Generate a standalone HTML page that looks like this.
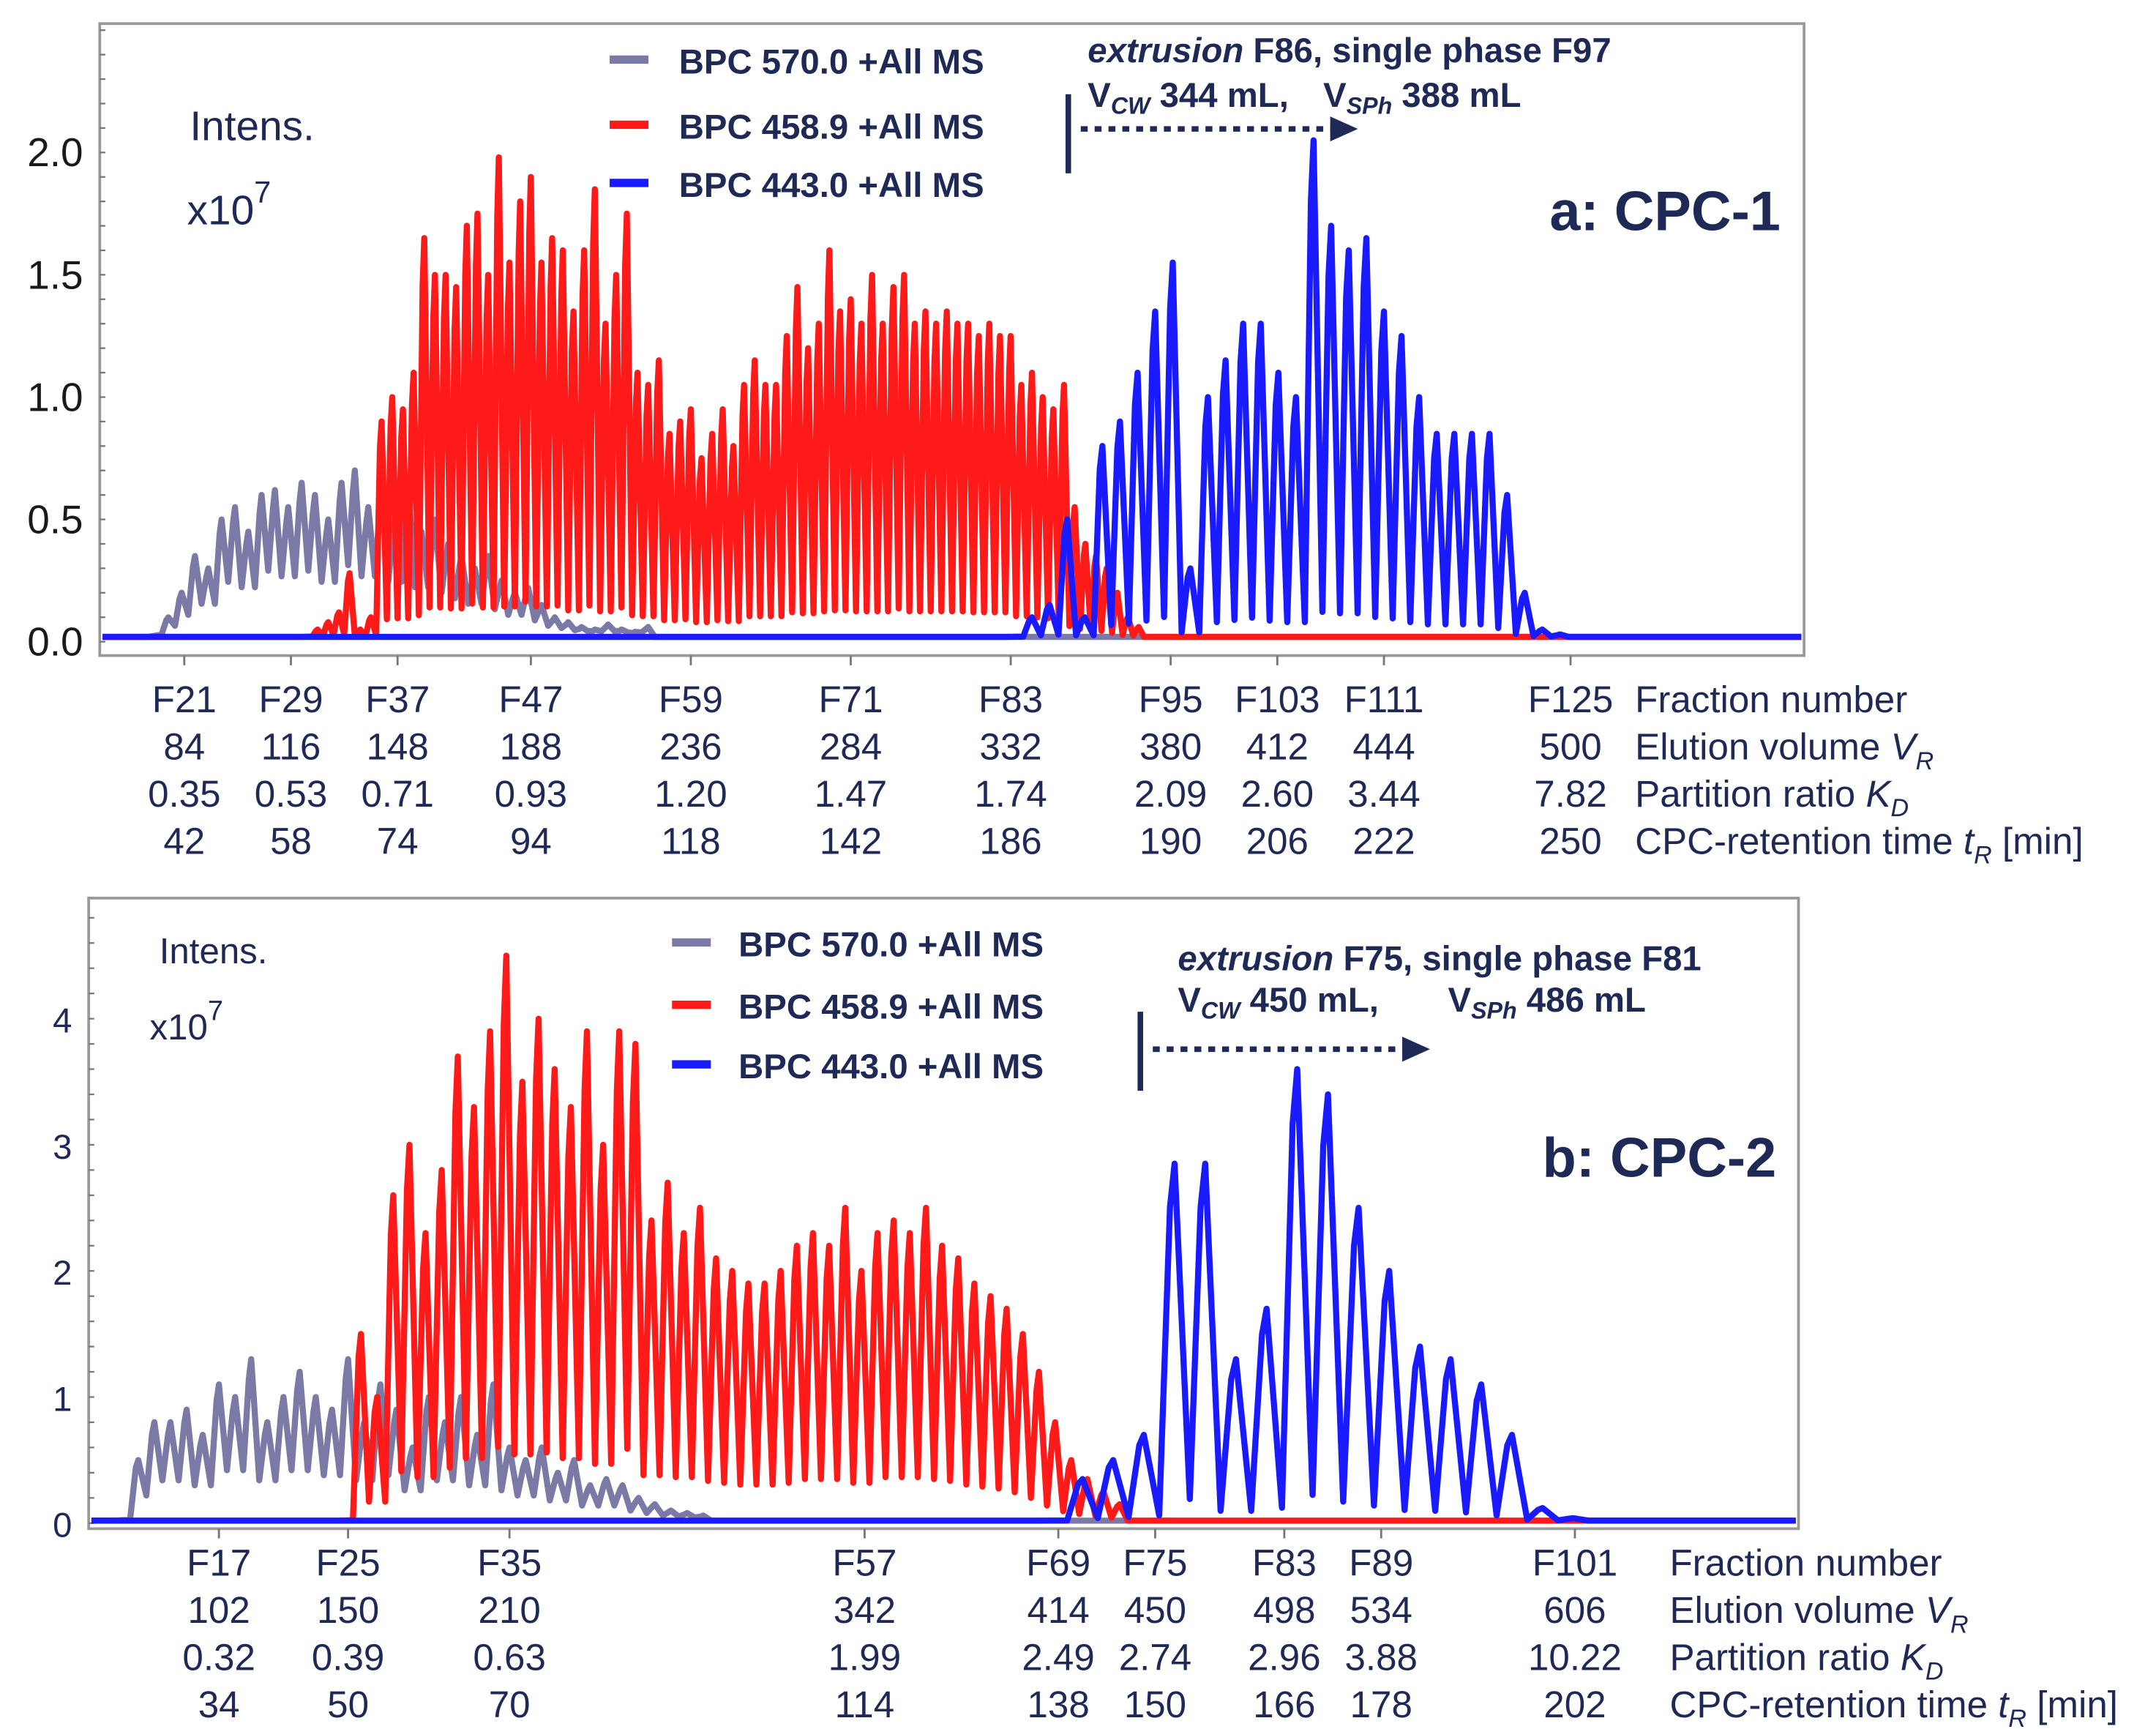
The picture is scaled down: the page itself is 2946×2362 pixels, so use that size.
<!DOCTYPE html>
<html><head><meta charset="utf-8"><style>
html,body{margin:0;padding:0;background:#fff;}
svg{display:block;}
text{font-family:"Liberation Sans",Arial,sans-serif;}
.tk{font-size:29px;fill:#1a1a1a;}
.tkb{font-size:25px;fill:#1e2a55;}
.tb{font-size:27px;fill:#1e2a55;}
.lg{font-size:25px;font-weight:bold;fill:#1e2a55;}
.an{font-size:25px;font-weight:bold;fill:#1e2a55;}
</style></head><body>
<svg id="chart" width="2946" height="2362" viewBox="0 0 1556 1247.5" xmlns="http://www.w3.org/2000/svg">
<rect width="1556" height="1248" fill="#fff"/>
<g id="panelA">
<rect x="72" y="17" width="1230" height="456" fill="none" stroke="#999" stroke-width="2"/>
<g id="ayax"></g>
<g id="aseries"></g>
<g id="atable"></g>
<text x="137" y="101" style="font-size:30px;fill:#1e2a55">Intens.</text>
<text x="135" y="162" style="font-size:30px;fill:#1e2a55">x10<tspan dy="-16" font-size="22">7</tspan></text>
<g>
<line x1="440" y1="43" x2="468" y2="43" stroke="#7b7aa6" stroke-width="6"/><text class="lg" x="490" y="53">BPC 570.0 +All MS</text>
<line x1="440" y1="90" x2="468" y2="90" stroke="#ff1a1a" stroke-width="6"/><text class="lg" x="490" y="100">BPC 458.9 +All MS</text>
<line x1="440" y1="132" x2="468" y2="132" stroke="#1a1aff" stroke-width="6"/><text class="lg" x="490" y="142">BPC 443.0 +All MS</text>
</g>
<g>
<text class="an" x="785" y="45"><tspan font-style="italic">extrusion</tspan> F86, single phase F97</text>
<text class="an" x="785" y="77">V<tspan font-size="17" dy="5" font-style="italic">CW</tspan><tspan dy="-5"> 344 mL,</tspan></text>
<text class="an" x="955" y="77">V<tspan font-size="17" dy="5" font-style="italic">SPh</tspan><tspan dy="-5"> 388 mL</tspan></text>
<line x1="771" y1="68" x2="771" y2="125" stroke="#1e2a55" stroke-width="4"/>
<line x1="780" y1="93" x2="962" y2="93" stroke="#1e2a55" stroke-width="4" stroke-dasharray="5,5"/>
<polygon points="960,84 980,93 960,102" fill="#1e2a55"/>
</g>
<text x="1285" y="166" text-anchor="end" style="font-size:40px;font-weight:bold;fill:#1e2a55">a: CPC-1</text>
</g>
<g id="panelB">
<rect x="64" y="648" width="1234" height="455" fill="none" stroke="#999" stroke-width="2"/>
<g id="byax"></g>
<g id="bseries"></g>
<g id="btable"></g>
<text x="115" y="695" style="font-size:26px;fill:#1e2a55">Intens.</text>
<text x="108" y="750" style="font-size:26px;fill:#1e2a55">x10<tspan dy="-14" font-size="20">7</tspan></text>
<g>
<line x1="485" y1="680" x2="513" y2="680" stroke="#7b7aa6" stroke-width="6"/><text class="lg" x="533" y="690">BPC 570.0 +All MS</text>
<line x1="485" y1="725" x2="513" y2="725" stroke="#ff1a1a" stroke-width="6"/><text class="lg" x="533" y="735">BPC 458.9 +All MS</text>
<line x1="485" y1="768" x2="513" y2="768" stroke="#1a1aff" stroke-width="6"/><text class="lg" x="533" y="778">BPC 443.0 +All MS</text>
</g>
<g>
<text class="an" x="850" y="700"><tspan font-style="italic">extrusion</tspan> F75, single phase F81</text>
<text class="an" x="850" y="730">V<tspan font-size="17" dy="5" font-style="italic">CW</tspan><tspan dy="-5"> 450 mL,</tspan></text>
<text class="an" x="1045" y="730">V<tspan font-size="17" dy="5" font-style="italic">SPh</tspan><tspan dy="-5"> 486 mL</tspan></text>
<line x1="823" y1="730" x2="823" y2="787" stroke="#1e2a55" stroke-width="4"/>
<line x1="832" y1="757" x2="1015" y2="757" stroke="#1e2a55" stroke-width="4" stroke-dasharray="5,5"/>
<polygon points="1012,748 1032,757 1012,766" fill="#1e2a55"/>
</g>
<text x="1282" y="849" text-anchor="end" style="font-size:40px;font-weight:bold;fill:#1e2a55">b: CPC-2</text>
</g>
</svg>
<script>
// ---- Panel A data ----
const aYTicks=[0,0.5,1.0,1.5,2.0];
const aYTickLabels=["0.0","0.5","1.0","1.5","2.0"];
const grayA_F0=19.8, grayA_step=1;
const grayA=[0.1,0.2,0.35,0.3,0.5,0.55,0.45,0.6,0.62,0.55,0.65,0.6,0.5,0.65,0.7,0.55,0.6,0.5,0.65,0.45,0.5,0.4,0.35,0.3,0.35,0.25,0.2,0.22,0.15,0.1,0.08,0.06,0.05,0.07,0.05,0.04,0.06];
const redA_F0=31, redA_step=0.8;
const redA=[0.05,0.08,0.12,0.28,0.05,0.1,0.9,1.0,0.95,1.1,1.65,1.5,1.5,1.45,1.7,1.75,1.5,1.98,1.55,1.8,1.9,1.55,1.65,1.6,1.35,1.6,1.85,1.3,1.5,1.75,1.1,1.05,1.15,0.85,0.9,0.95,0.75,0.85,0.95,0.8,1.05,1.15,1.05,1.05,1.25,1.45,1.2,1.3,1.6,1.35,1.4,1.3,1.5,1.3,1.45,1.5,1.3,1.35,1.3,1.35,1.3,1.3,1.25,1.3,1.25,1.25,1.05,1.1,1.0,0.95,1.05,0.55,0.4,0.35,0.3,0.2,0.1,0.06];
const blueA_F0=84.6, blueA_step=1.32;
const blueA=[0.1,0.15,0.5,0.1,0.8,0.9,1.1,1.35,1.55,0.3,1.0,1.15,1.3,1.3,1.1,1.0,2.05,1.7,1.6,1.65,1.35,1.25,1.0,0.85,0.85,0.85,0.85,0.6,0.2,0.05,0.03];
const aXTicksF=[21,29,37,47,59,71,83,95,103,111,125];
const aRowVR=["84","116","148","188","236","284","332","380","412","444","500"];
const aRowKD=["0.35","0.53","0.71","0.93","1.20","1.47","1.74","2.09","2.60","3.44","7.82"];
const aRowTR=["42","58","74","94","118","142","186","190","206","222","250"];
const aRowLbl=["Fraction number","Elution volume V|R","Partition ratio K|D","CPC-retention time t|R [min]"];
// ---- Panel B data ----
const bYTicks=[0,1,2,3,4];
const bYTickLabels=["0","1","2","3","4"];
const grayB_F0=12, grayB_step=1;
const grayB=[0.5,0.8,0.8,0.9,0.7,1.1,1.0,1.3,0.8,1.0,1.2,1.0,0.9,1.3,0.8,1.1,0.9,0.6,1.0,0.8,1.0,0.7,1.1,0.6,0.5,0.6,0.4,0.5,0.3,0.35,0.3,0.2,0.15,0.1,0.08,0.06];
const redB_F0=25.8, redB_step=1;
const redB=[1.5,1.0,2.6,3.0,2.3,2.8,3.7,3.3,3.9,4.5,3.5,4.0,3.6,3.3,3.9,3.0,3.9,3.8,2.4,2.7,2.3,2.5,2.1,2.0,1.9,1.9,2.0,2.2,2.3,2.2,2.5,2.0,2.3,2.4,2.3,2.5,2.2,2.1,1.9,1.8,1.7,1.5,1.2,0.8,0.5,0.35,0.25,0.15];
const blueB_F0=70.5, blueB_step=1.9;
const blueB=[0.35,0.5,0.7,2.85,2.85,1.3,1.7,3.6,3.4,2.5,2.0,1.4,1.3,1.1,0.7,0.12,0.04];
const bXTicksF=[17,25,35,57,69,75,83,89,101];
const bRowVR=["102","150","210","342","414","450","498","534","606"];
const bRowKD=["0.32","0.39","0.63","1.99","2.49","2.74","2.96","3.88","10.22"];
const bRowTR=["34","50","70","114","138","150","166","178","202"];

const NS="http://www.w3.org/2000/svg";
function mk(tag,attrs,parent){const e=document.createElementNS(NS,tag);for(const k in attrs)e.setAttribute(k,attrs[k]);parent.appendChild(e);return e;}
const A={x:f=>133+(f-21)*9.62, y:v=>463-v*176.5, x0:74, x1:1300, left:72};
const B={x:f=>158+(f-17)*11.65, y:v=>1099-v*91, x0:66, x1:1296, left:64};

function yAxis(P,g,ticks,labels,minorStep,maxV,cls){
  for(let v=0;v<=maxV+1e-9;v+=minorStep){const l=mk('line',{x1:P.left,x2:P.left+4,y1:P.y(v),y2:P.y(v),stroke:'#777','stroke-width':1.2},g);
    }
  ticks.forEach((v,i)=>{const t=mk('text',{x:P.left-12,y:P.y(v)+10,'text-anchor':'end',class:cls},g);t.textContent=labels[i];
    });
}
function series(P,g,F0,step,H,color,name,vf){
  const pts=[[P.x0,P.y(0.02)]];
  const base=0.02;
  pts.push([P.x(F0-step*1.5),P.y(base)]);
  H.forEach((h,i)=>{const prev=i?H[i-1]:base;const f=F0+i*step;
    const v=Math.min(prev,h)*vf+base;
    pts.push([P.x(f-step/2),P.y(v)]);
    pts.push([P.x(f-step*0.15),P.y(h*0.88)]);
    pts.push([P.x(f),P.y(h)]);});
  const fe=F0+H.length*step;
  pts.push([P.x(fe-step/2),P.y(base)]);
  pts.push([P.x1,P.y(base)]);
  const p=mk('polyline',{points:pts.map(q=>q[0].toFixed(1)+','+q[1].toFixed(1)).join(' '),fill:'none',stroke:color,'stroke-width':4.4,'stroke-linejoin':'round'},g);
  
  
}
function noise(P,g,color,name){
  const l=mk('line',{x1:P.x0,x2:P.x1,y1:P.y(0.02),y2:P.y(0.02),stroke:color,'stroke-width':3.5},g);
  
}
function table(P,g,xf,rows,rowY,lblX,axisY){
  xf.forEach((f,i)=>{const t=mk('line',{x1:P.x(f),x2:P.x(f),y1:axisY,y2:axisY+7,stroke:'#777','stroke-width':1.5},g);
    });
  const r0=xf.map(f=>'F'+f);
  [r0].concat(rows).forEach((row,ri)=>{row.forEach((s,i)=>{const t=mk('text',{x:P.x(xf[i]),y:rowY[ri],'text-anchor':'middle',class:'tb'},g);t.textContent=s;
    });});
  aRowLbl.forEach((s,ri)=>{const t=mk('text',{x:lblX,y:rowY[ri],class:'tb'},g);const parts=s.split('|');
    t.appendChild(document.createTextNode(parts.length>1?parts[0].slice(0,-1):parts[0]));
    if(parts.length>1){const it=mk('tspan',{'font-style':'italic'},t);it.textContent=parts[0].slice(-1);
      const sb=mk('tspan',{'font-style':'italic','font-size':18,dy:7},t);sb.textContent=parts[1].split(' ')[0];
      const rest=parts[1].slice(1);if(rest){const r=mk('tspan',{dy:-7},t);r.textContent=rest;}}
    });
}
const ga=document.getElementById('aseries'), gb=document.getElementById('bseries');
yAxis(A,document.getElementById('ayax'),aYTicks,aYTickLabels,0.1,2.5,'tk');
yAxis(B,document.getElementById('byax'),bYTicks,bYTickLabels,0.2,4.8,'tkb');
noise(A,ga,'#ff1a1a','red-baseline-a');noise(A,ga,'#7b7aa6','gray-baseline-a');
series(A,ga,grayA_F0,grayA_step,grayA,'#7b7aa6','bpc-570-series-a',0.45);
series(A,ga,redA_F0,redA_step,redA,'#ff1a1a','bpc-458-series-a',0.08);
series(A,ga,blueA_F0,blueA_step,blueA,'#1a1aff','bpc-443-series-a',0.06);
noise(B,gb,'#ff1a1a','red-baseline-b');noise(B,gb,'#7b7aa6','gray-baseline-b');
series(B,gb,grayB_F0,grayB_step,grayB,'#7b7aa6','bpc-570-series-b',0.4);
series(B,gb,redB_F0,redB_step,redB,'#ff1a1a','bpc-458-series-b',0.15);
series(B,gb,blueB_F0,blueB_step,blueB,'#1a1aff','bpc-443-series-b',0.06);
table(A,document.getElementById('atable'),aXTicksF,[aRowVR,aRowKD,aRowTR],[514,548,582,616],1180,473);
table(B,document.getElementById('btable'),bXTicksF,[bRowVR,bRowKD,bRowTR],[1137,1171,1205,1239],1205,1103);
</script>
</body></html>
